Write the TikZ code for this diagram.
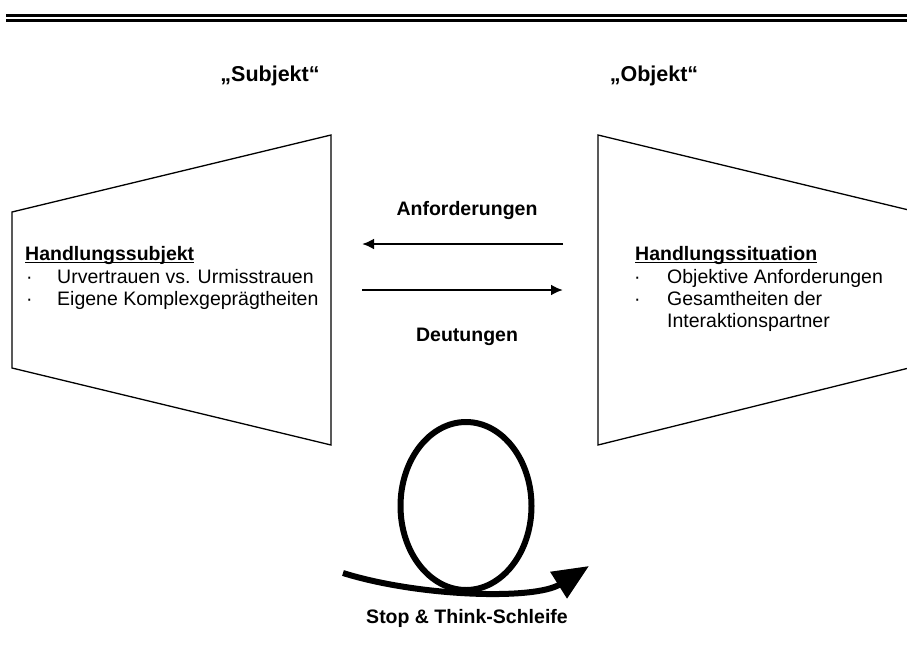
\documentclass[tikz,border=0pt]{standalone}
\usepackage{fontspec}
\setmainfont{Liberation Sans}
\usetikzlibrary{arrows.meta}

\begin{document}
\begin{tikzpicture}[x=1pt,y=-1pt,
  txt/.style={inner sep=0pt,font=\fontsize{19.5}{22}\selectfont},
  bold/.style={txt,font=\fontsize{19.5}{22}\selectfont\bfseries},
  head/.style={txt,font=\fontsize{21.5}{24}\selectfont\bfseries},
  frame/.style={line width=1.3pt,line join=miter},
  flow/.style={line width=2.6pt,-{Latex[length=12pt,width=11pt]}},
  loopline/.style={line width=6pt}]
\useasboundingbox (0,0) rectangle (907,664);

% double rule at the top
\draw[line width=2.7pt] (6,15.3) -- (915,15.3);
\draw[line width=2.7pt] (6,20.3) -- (915,20.3);

% column headings
\node[head,anchor=base] (subj) at (270,81) {„Subjekt“};
\node[head,anchor=base] (obj) at (654,81) {„Objekt“};

% left trapezoid (acting subject)
\coordinate (l1) at (12,212);
\coordinate (l2) at (331,135);
\coordinate (l3) at (331,445);
\coordinate (l4) at (12,368);
\draw[frame] (l1) -- (l2) -- (l3) -- (l4) -- cycle;

% right trapezoid (situation), running past the right edge
\coordinate (r1) at (598,135);
\coordinate (r2) at (917,212);
\coordinate (r3) at (917,366);
\coordinate (r4) at (598,445);
\draw[frame] (r2) -- (r1) -- (r4) -- (r3);

% left box text
\node[bold,anchor=base west] (hs) at (25,260) {Handlungssubjekt};
\draw[line width=1.4pt] ([yshift=-2.2pt]hs.base west) -- ([yshift=-2.2pt]hs.base east);
\node[txt,anchor=base west] (hsd1) at (26,283) {·};
\node[txt,anchor=base west] (hs1) at (57,283) {Urvertrauen vs. Urmisstrauen};
\node[txt,anchor=base west] (hsd2) at (26,305) {·};
\node[txt,anchor=base west] (hs2) at (57,305) {Eigene Komplexgeprägtheiten};

% right box text
\node[bold,anchor=base west] (hsit) at (635,260) {Handlungssituation};
\draw[line width=1.4pt] ([yshift=-2.2pt]hsit.base west) -- ([yshift=-2.2pt]hsit.base east);
\node[txt,anchor=base west] (sd1) at (634,283) {·};
\node[txt,anchor=base west] (s1) at (667,283) {Objektive Anforderungen};
\node[txt,anchor=base west] (sd2) at (634,305) {·};
\node[txt,anchor=base west] (s2) at (667,305) {Gesamtheiten der};
\node[txt,anchor=base west] (s3) at (667,327) {Interaktionspartner};

% exchange arrows between the two sides
\node[bold,anchor=base] (anf) at (467,215) {Anforderungen};
\node[bold,anchor=base] (deu) at (467,341) {Deutungen};
\coordinate (aR) at (563,244);
\coordinate (aL) at (362,244);
\coordinate (dL) at (362,290);
\coordinate (dR) at (563,290);
\draw[flow] (aR) -- (aL);
\draw[flow] (dL) -- (dR);

% stop & think loop
\coordinate (c0) at (343,573);
\coordinate (c1) at (589,566);
\draw[loopline] (466,506) ellipse [x radius=65.5, y radius=84];
\draw[loopline,-{Triangle[length=36pt,width=30pt]}]
  (c0) .. controls (420,597) and (535,600) .. (c1);
\node[bold,anchor=base] (st) at (467,623) {Stop \& Think-Schleife};
\end{tikzpicture}
\end{document}
